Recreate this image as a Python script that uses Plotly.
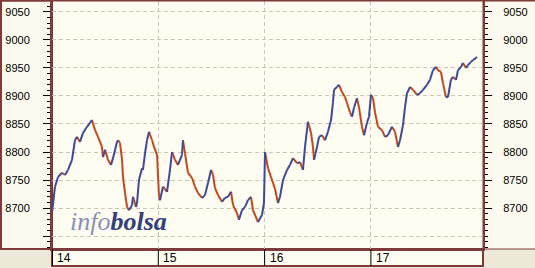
import plotly.graph_objects as go

# time in trading days since the 14th (fractional), index level
t14 = [0.000,0.028,0.056,0.094,0.122,0.151,0.188,0.216,0.235,0.263,0.292,0.329,0.357,0.376,0.405,0.433,0.470,0.480,0.499,0.527,0.555,0.574,0.611,0.621,0.640,0.659,0.668,0.687,0.706,0.724,0.753,0.762,0.790,0.800,0.818,0.847,0.856,0.875,0.894,0.913,0.941,0.960,0.988]
v14 = [8691,8738,8755,8763,8759,8768,8786,8821,8827,8818,8834,8845,8852,8857,8839,8827,8809,8791,8804,8786,8777,8789,8818,8821,8816,8786,8755,8727,8702,8696,8705,8720,8702,8709,8750,8771,8768,8798,8821,8836,8821,8809,8795]
t15 = [1.007,1.016,1.044,1.082,1.110,1.129,1.157,1.185,1.223,1.232,1.251,1.279,1.317,1.345,1.373,1.411,1.439,1.468,1.496,1.515,1.533,1.562,1.599,1.627,1.656,1.684,1.703,1.740,1.759,1.787,1.816,1.844,1.872,1.891,1.929,1.938,1.976,1.994]
v15 = [8720,8714,8738,8729,8768,8800,8786,8777,8795,8821,8798,8763,8754,8738,8727,8718,8723,8745,8768,8759,8736,8723,8711,8718,8720,8729,8705,8691,8679,8696,8702,8714,8720,8696,8679,8675,8688,8709]
t16 = [2.004,2.032,2.070,2.098,2.126,2.145,2.173,2.211,2.239,2.267,2.305,2.333,2.361,2.380,2.408,2.437,2.455,2.465,2.493,2.512,2.540,2.568,2.596,2.625,2.643,2.653,2.681,2.700,2.728,2.756,2.775,2.803,2.822,2.841,2.869,2.888,2.916,2.935,2.963,2.982]
v16 = [8800,8771,8750,8734,8709,8720,8750,8768,8777,8789,8780,8782,8768,8809,8854,8834,8809,8786,8809,8827,8830,8821,8836,8857,8888,8911,8916,8920,8907,8898,8888,8871,8863,8879,8896,8880,8845,8830,8852,8863]
t17 = [3.001,3.020,3.039,3.067,3.104,3.133,3.161,3.198,3.227,3.255,3.274,3.302,3.321,3.340,3.368,3.396,3.434,3.462,3.490,3.528,3.556,3.584,3.612,3.631,3.659,3.678,3.706,3.725,3.753,3.772,3.801,3.819,3.848,3.866,3.895,3.913,3.942,3.960,3.989,3.998]
v17 = [8902,8896,8870,8845,8839,8827,8830,8845,8836,8809,8821,8848,8880,8905,8916,8911,8902,8905,8911,8920,8929,8946,8952,8946,8943,8923,8898,8898,8929,8934,8929,8946,8952,8959,8950,8955,8961,8964,8968,8970]

day_labels = ["14", "15", "16", "17"]
day_pos = [0, 1, 2, 3]
y_ticks = [8700, 8750, 8800, 8850, 8900, 8950, 9000, 9050]

t = t14 + t15 + t16 + t17
v = v14 + v15 + v16 + v17

RED = "#C2481E"
BLUE = "#3C4A98"
MAROON = "#7E3A3A"
CREAM = "#FFFCF2"
PANEL = "#FCF9EE"
GRAYBG = "#ECE9D8"
GRID = "#C9C6B4"

# up-move segments in blue, down-move in red
ux, uy, dx, dy = [], [], [], []
for i in range(1, len(t)):
    if v[i] >= v[i - 1]:
        ux += [t[i - 1], t[i], None]; uy += [v[i - 1], v[i], None]
    else:
        dx += [t[i - 1], t[i], None]; dy += [v[i - 1], v[i], None]

fig = go.Figure()
fig.add_trace(go.Scatter(x=dx, y=dy, mode="lines", line=dict(color=RED, width=2), hoverinfo="skip"))
fig.add_trace(go.Scatter(x=ux, y=uy, mode="lines", line=dict(color=BLUE, width=2), hoverinfo="skip"))
fig.add_trace(go.Scatter(x=[t[0]], y=[v[0]], yaxis="y2", mode="markers", marker=dict(opacity=0), hoverinfo="skip"))

yr = [8626.8, 9069.6]
W, H = 535, 268
L, R, T, B = 52, 52, 1, 19
pw = W - L - R
ph = H - T - B

def px(xp):
    return (xp - L) / pw

def py(yp):
    return (H - B - yp) / ph

common_y = dict(
    range=yr, ticks="outside", ticklen=7, tickwidth=1, tickcolor="black",
    tickfont=dict(family="Liberation Sans, Arial, sans-serif", size=11, color="black"),
    showline=True, linecolor=MAROON, linewidth=2, zeroline=False,
    minor=dict(dtick=10, ticks="outside", ticklen=3, tickcolor="black", showgrid=False),
)

fig.update_layout(
    width=W, height=H, margin=dict(l=L, r=R, t=T, b=B),
    paper_bgcolor=GRAYBG, plot_bgcolor=CREAM, showlegend=False,
    xaxis=dict(range=[0, pw / 106.3], tickvals=day_pos[1:], showticklabels=False, ticks="",
               showgrid=True, gridcolor=GRID, griddash="4px,3px", gridwidth=1,
               showline=True, linecolor=MAROON, linewidth=2, zeroline=False),
    yaxis=dict(**common_y, showgrid=True, gridcolor=GRID, griddash="4px,3px", gridwidth=1,
               tickvals=[8650] + y_ticks, ticktext=[""] + [str(x) for x in y_ticks],
               ticklabelstandoff=11),
    yaxis2=dict(**common_y, overlaying="y", side="right", showgrid=False,
                tickvals=y_ticks, ticklabelstandoff=9),
)

shapes = [
    # left axis panel
    dict(type="rect", xref="paper", yref="paper", x0=px(1), x1=0, y0=0, y1=py(0.5),
         fillcolor=PANEL, line=dict(color=MAROON, width=2), layer="below"),
    # right axis panel
    dict(type="rect", xref="paper", yref="paper", x0=1, x1=px(W + 2), y0=0, y1=py(0.5),
         fillcolor=PANEL, line=dict(color=MAROON, width=1), layer="below"),
    # date strip
    dict(type="rect", xref="paper", yref="paper", x0=0, x1=1, y0=py(266), y1=0,
         fillcolor=CREAM, line=dict(color=MAROON, width=2), layer="below"),
    # top frame
    dict(type="line", xref="paper", yref="paper", x0=px(0), x1=px(W), y0=py(0.5), y1=py(0.5),
         line=dict(color=MAROON, width=2)),
]
for d in day_pos:
    shapes.append(dict(type="line", xref="x", yref="paper", x0=d, x1=d, y0=py(266), y1=0,
                       line=dict(color="black", width=2 if d == 0 else 1)))
fig.update_layout(shapes=shapes)

ann = []
for d, lab in zip(day_pos, day_labels):
    ann.append(dict(x=d, y=py(258), xref="x", yref="paper", text=lab, showarrow=False,
                    xanchor="left", yanchor="middle", xshift=3,
                    font=dict(family="Liberation Sans, Arial, sans-serif", size=12, color="black")))
ann.append(dict(x=px(68), y=py(221), xref="paper", yref="paper", showarrow=False,
                xanchor="left", yanchor="middle",
                text="<span style='color:#8A91B2'><i>info</i></span><span style='color:#33407C'><i><b>bolsa</b></i></span>",
                font=dict(family="Liberation Serif, Times New Roman, serif", size=26)))
fig.update_layout(annotations=ann)

fig.write_html("out.html")
